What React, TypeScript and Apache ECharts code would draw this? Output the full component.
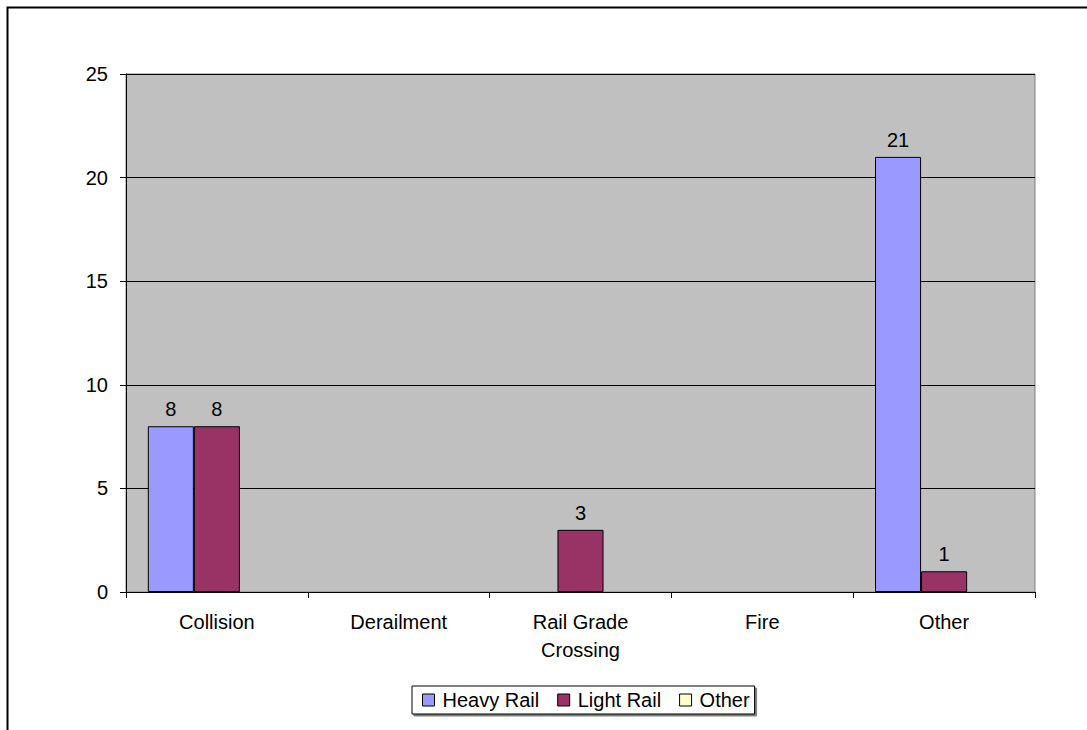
import React, { useEffect, useRef } from "react";
import * as echarts from "echarts";

const categories = ["Collision", "Derailment", "Rail Grade\nCrossing", "Fire", "Other"];
const heavyRail = [8, null, null, null, 21];
const lightRail = [8, null, 3, null, 1];
const otherMode = [null, null, null, null, null];
const yTicks = { min: 0, max: 25, interval: 5 };

const FONT = "Liberation Sans, Arial, sans-serif";
const FS = 20;

export default function App() {
  const ref = useRef<HTMLDivElement>(null);
  useEffect(() => {
    if (!ref.current) return;
    const chart = echarts.init(ref.current, null, { renderer: "svg" });
    const label = {
      show: true,
      position: "top",
      distance: 7,
      color: "#000",
      fontSize: FS,
      fontFamily: FONT,
    };
    const mk = (name: string, data: any[], color: string) => ({
      name,
      type: "bar",
      data,
      barGap: "0%",
      barCategoryGap: "24%",
      itemStyle: { color, borderColor: "#000", borderWidth: 1 },
      label,
    });
    chart.setOption({
      animation: false,
      textStyle: { fontFamily: FONT },
      graphic: [
        {
          type: "rect",
          shape: { x: 7.5, y: 7.5, width: 1200, height: 900 },
          style: { fill: "none", stroke: "#000", lineWidth: 2 },
          z: -1,
        },
      ],
      grid: {
        left: 126,
        right: 52,
        top: 74,
        bottom: 138,
        show: true,
        backgroundColor: "#C0C0C0",
        borderColor: "#808080",
        borderWidth: 1,
      },
      legend: {
        left: 412,
        top: 686,
        width: 345,
        padding: [4, 5, 4, 10],
        itemGap: 18,
        itemWidth: 12,
        itemHeight: 12,
        icon: "rect",
        borderColor: "#000",
        borderWidth: 1,
        backgroundColor: "#fff",
        shadowColor: "rgba(0,0,0,0.5)",
        shadowOffsetX: 2,
        shadowOffsetY: 2,
        shadowBlur: 0,
        itemStyle: { borderColor: "#000", borderWidth: 1 },
        textStyle: { fontSize: FS, color: "#000", fontFamily: FONT, padding: [0, 0, 0, 3] },
        data: ["Heavy Rail", "Light Rail", "Other"],
      },
      xAxis: {
        type: "category",
        data: categories,
        axisLine: { lineStyle: { color: "#000", width: 1 } },
        axisTick: { show: true, length: 6, lineStyle: { color: "#000" } },
        axisLabel: {
          color: "#000",
          fontSize: FS,
          fontFamily: FONT,
          margin: 16,
          lineHeight: 28,
          interval: 0,
        },
        splitLine: { show: false },
      },
      yAxis: {
        type: "value",
        min: yTicks.min,
        max: yTicks.max,
        interval: yTicks.interval,
        axisLine: { show: true, lineStyle: { color: "#000", width: 1 } },
        axisTick: { show: true, length: 6, lineStyle: { color: "#000" } },
        axisLabel: { color: "#000", fontSize: FS, fontFamily: FONT, margin: 18 },
        splitLine: { show: true, lineStyle: { color: "#000", width: 1 } },
      },
      series: [
        mk("Heavy Rail", heavyRail, "#9999FF"),
        mk("Light Rail", lightRail, "#993366"),
        mk("Other", otherMode, "#FFFFCC"),
      ],
    });
    return () => chart.dispose();
  }, []);
  return (
    <div
      ref={ref}
      style={{ position: "fixed", left: 0, top: 0, width: 1087, height: 730, background: "#fff" }}
    />
  );
}
